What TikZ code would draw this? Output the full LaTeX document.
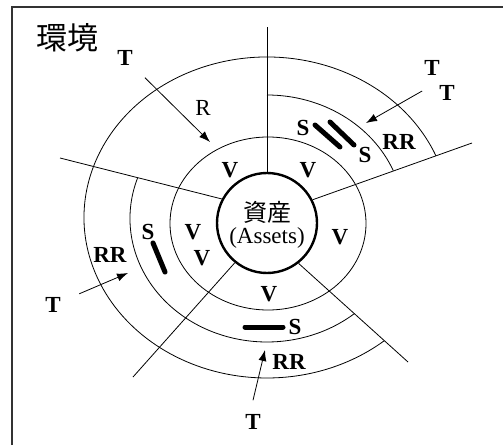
\documentclass[tikz,border=0pt]{standalone}
\usepackage{fontspec}
\setmainfont{Liberation Serif}
\newfontfamily\jpfont{Noto Sans CJK JP}
\usetikzlibrary{arrows.meta}
\definecolor{ink}{HTML}{000000}
\definecolor{framegray}{HTML}{333333}
\tikzset{
  frameline/.style={draw=framegray,line width=1.2pt},
  ring/.style={draw=ink,line width=0.8pt},
  spoke/.style={draw=ink,line width=0.8pt},
  assetcirc/.style={draw=ink,circle,line width=2.4pt,
                    minimum size=100pt,inner sep=0pt},
  lbl/.style={font=\fontsize{23}{25}\selectfont\bfseries,inner sep=0pt},
  lblreg/.style={font=\fontsize{23}{25}\selectfont,inner sep=0pt},
  jplbl/.style={inner sep=0pt},
  safebar/.style={line width=5pt,line cap=round},
  hitarr/.style={-{Latex[length=11pt,width=8pt]},line width=0.8pt}
}

\begin{document}
\begin{tikzpicture}[x=1pt,y=1pt]
  \useasboundingbox (0,0) rectangle (503,445);
  \draw[frameline] (12,0) -- (12,438) -- (503,438);

  \node[jplbl,font=\jpfont\fontsize{31}{33}\selectfont] (env) at (67,407) {環境};

  % rings round the asset
  \coordinate (c2) at (268,221.5);
  \coordinate (c3) at (267,226.5);
  \coordinate (c4) at (267,227.5);
  \draw[ring] (c2) ellipse[x radius=98pt,y radius=86.5pt];
  \draw[ring] (c3) ++(160.71:137pt and 123.5pt)
    arc[start angle=160.71,end angle=309.55,x radius=137pt,y radius=123.5pt];
  \draw[ring] (c3) ++(22.77:137pt and 123.5pt)
    arc[start angle=22.77,end angle=90,x radius=137pt,y radius=123.5pt];
  \draw[ring] (c4) ++(22.65:183pt and 160.5pt)
    arc[start angle=22.65,end angle=309.87,x radius=183pt,y radius=160.5pt];

  \node[assetcirc] (asset) at (267,222) {};
  \node[jplbl,font=\jpfont\fontsize{24}{26}\selectfont] (assetjp) at (267,233) {資産};
  \node[jplbl,font=\fontsize{23}{25}\selectfont] (asseten) at (267,207) {(Assets)};

  % spokes
  \coordinate (sp1) at (267,418);
  \coordinate (sp2) at (60,287);
  \coordinate (sp3) at (472,302);
  \coordinate (sp4) at (133,68);
  \coordinate (sp5) at (408,83);
  \draw[spoke] (asset.90) -- (sp1);
  \draw[spoke] (asset.152) -- (sp2);
  \draw[spoke] (asset.27.6) -- (sp3);
  \draw[spoke] (asset.231) -- (sp4);
  \draw[spoke] (asset.308) -- (sp5);

  % top sector
  \node[lbl] (ttop) at (125,387) {T};
  \node[lblreg] (rtop) at (203,337) {R};
  \node[lbl] (vtop) at (230,275) {V};
  \coordinate (hittop) at (210,303);
  \draw[hitarr,shorten <=17pt] (ttop) -- (hittop);

  % top right sector
  \node[lbl] (ttr1) at (432,377) {T};
  \node[lbl] (ttr2) at (447,352) {T};
  \node[lbl] (str1) at (303,317) {S};
  \node[lbl] (str2) at (365,290) {S};
  \node[lbl] (rrtr) at (399,303) {RR};
  \node[lbl] (vtr) at (308,275) {V};
  \draw[safebar] (315,320) -- (340,298);
  \draw[safebar] (330,323) -- (354,300);
  \coordinate (hittr) at (366,322);
  \draw[hitarr] ([xshift=-17pt,yshift=2pt]ttr2.west) -- (hittr);

  % right sector
  \node[lbl] (vright) at (340,208) {V};

  % bottom sector
  \node[lbl] (vbot) at (269,151) {V};
  \node[lbl] (sbot) at (295,118) {S};
  \draw[safebar] (245,118) -- (283,118);
  \node[lbl] (rrbot) at (289,83) {RR};
  \node[lbl] (tbot) at (253,23) {T};
  \coordinate (hitbot) at (265,95);
  \draw[hitarr] ([yshift=14pt]tbot.north) -- (hitbot);

  % left sector
  \node[lbl] (vleft1) at (193,213) {V};
  \node[lbl] (vleft2) at (202,187) {V};
  \node[lbl] (sleft) at (148,213) {S};
  \draw[safebar] (153,202) -- (165,173);
  \node[lbl] (rrleft) at (110,190) {RR};
  \node[lbl] (tleft) at (53,140) {T};
  \coordinate (hitleft) at (128,172);
  \draw[hitarr,shorten <=20pt] (tleft) -- (hitleft);
\end{tikzpicture}
\end{document}
